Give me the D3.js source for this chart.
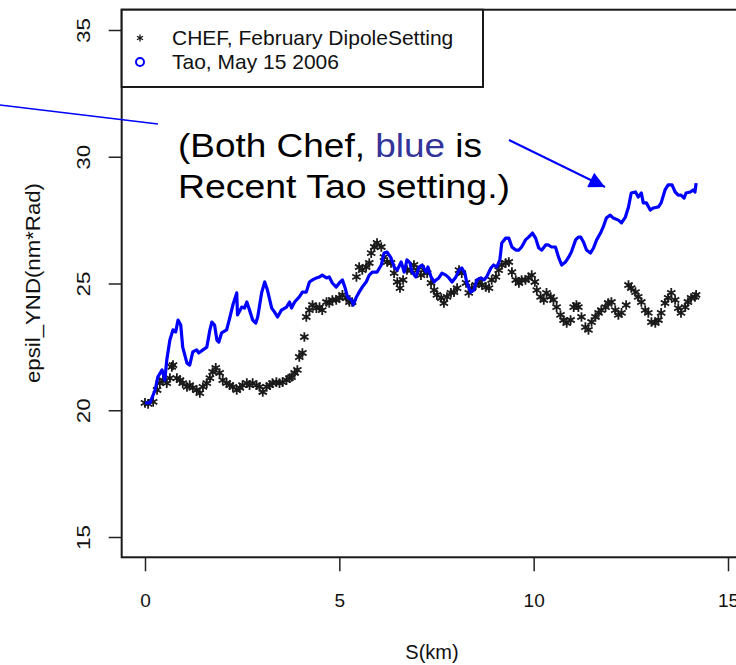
<!DOCTYPE html>
<html>
<head>
<meta charset="utf-8">
<script src="https://cdn.jsdelivr.net/npm/d3@7"></script>
<style>
  body { margin: 0; background: #fff; }
  svg { display: block; font-family: "Liberation Sans", Arial, sans-serif; }
</style>
</head>
<body>
<div id="chart"></div>
<script>
// CHEF, February DipoleSetting (star markers): [S(km), epsil_YND]
var chefS = [0,0.08,0.21,0.31,0.38,0.46,0.56,0.64,0.69,0.72,0.82,0.90,0.97,1.08,1.15,1.23,1.33,1.41,1.49,1.59,
  1.67,1.74,1.82,1.92,2.00,2.10,2.18,2.26,2.36,2.44,2.51,2.62,2.69,2.77,2.87,2.95,3.03,3.13,3.21,3.28,
  3.38,3.46,3.54,3.64,3.72,3.77,3.85,3.92,3.97,4.05,4.10,4.15,4.23,4.31,4.41,4.49,4.56,4.67,4.74,4.82,
  4.92,5.00,5.08,5.18,5.26,5.33,5.44,5.51,5.59,5.69,5.77,5.82,5.90,5.97,6.08,6.15,6.23,6.33,6.41,6.49,
  6.56,6.64,6.74,6.85,6.92,7.00,7.10,7.18,7.26,7.36,7.44,7.51,7.62,7.69,7.77,7.87,7.95,8.03,8.08,8.15,
  8.26,8.33,8.41,8.51,8.59,8.67,8.77,8.85,8.92,9.03,9.10,9.18,9.28,9.36,9.44,9.54,9.62,9.69,9.79,9.87,
  9.95,10.03,10.08,10.18,10.26,10.33,10.44,10.51,10.59,10.69,10.77,10.85,10.95,11.03,11.10,11.15,11.23,11.33,11.41,11.49,
  11.59,11.67,11.74,11.85,11.92,12.00,12.10,12.18,12.26,12.38,12.44,12.51,12.62,12.69,12.77,12.87,12.95,13.03,13.13,13.21,
  13.28,13.38,13.46,13.54,13.64,13.72,13.79,13.90,13.97,14.05,14.15,14.18];
var chefEps = [20.29,20.25,20.33,20.80,21.07,21.19,21.07,21.27,21.71,21.78,21.27,21.19,21.07,20.92,20.99,20.88,20.80,20.68,20.92,21.07,
  21.27,21.51,21.67,21.47,21.19,21.07,20.99,20.92,20.80,20.88,20.99,21.07,20.99,21.07,20.99,20.92,20.72,20.92,20.99,21.07,
  21.11,21.07,21.11,21.19,21.27,21.31,21.47,21.59,22.10,22.26,22.89,23.68,23.95,24.15,24.03,24.07,23.95,24.27,24.23,24.35,
  24.35,24.43,24.55,24.43,24.27,24.27,25.26,25.65,25.53,25.65,25.81,26.20,26.44,26.60,26.44,26.04,25.85,25.81,25.41,25.06,
  24.82,25.14,25.53,25.53,25.73,25.53,25.33,25.53,25.41,25.02,24.74,24.55,24.43,24.23,24.47,24.63,24.66,24.82,25.53,25.41,
  25.02,24.63,24.82,24.94,25.06,24.94,24.86,24.82,25.14,25.26,25.53,25.73,25.81,25.85,25.45,25.14,25.02,25.14,25.14,25.22,
  25.33,25.06,24.74,24.47,24.35,24.63,24.47,24.35,24.07,23.76,23.56,23.44,23.56,24.07,24.15,24.07,23.68,23.28,23.17,23.48,
  23.68,23.84,23.95,24.07,24.23,24.27,23.95,23.76,23.84,24.15,24.94,24.82,24.66,24.47,24.27,23.95,23.84,23.48,23.44,23.56,
  23.84,24.23,24.43,24.63,24.35,24.03,23.84,24.07,24.27,24.43,24.47,24.55];

// Tao, May 15 2006 (blue line)
var taoS = [0,0.13,0.26,0.33,0.44,0.51,0.56,0.64,0.72,0.79,0.85,0.92,0.97,1.08,1.15,1.23,1.33,1.38,1.49,1.59,
  1.67,1.72,1.79,1.85,1.90,1.97,2.10,2.18,2.26,2.36,2.38,2.49,2.56,2.62,2.69,2.77,2.85,2.90,3.00,3.08,
  3.15,3.26,3.33,3.41,3.51,3.64,3.72,3.77,3.85,3.97,4.05,4.15,4.23,4.31,4.41,4.49,4.56,4.67,4.74,4.82,
  4.92,5.00,5.08,5.15,5.21,5.31,5.36,5.44,5.51,5.59,5.69,5.77,5.85,5.97,6.08,6.15,6.23,6.33,6.41,6.49,
  6.59,6.67,6.74,6.82,6.87,6.97,7.05,7.13,7.23,7.28,7.36,7.44,7.49,7.56,7.64,7.74,7.82,7.90,8.00,8.08,
  8.15,8.23,8.28,8.38,8.46,8.54,8.64,8.72,8.79,8.90,8.97,9.05,9.13,9.18,9.28,9.36,9.44,9.54,9.62,9.69,
  9.79,9.87,9.97,10.05,10.13,10.21,10.31,10.38,10.46,10.56,10.64,10.72,10.82,10.90,10.97,11.08,11.15,11.21,11.28,11.36,
  11.46,11.54,11.62,11.72,11.79,11.87,11.97,12.05,12.18,12.26,12.36,12.44,12.51,12.62,12.69,12.77,12.82,12.90,13.00,13.08,
  13.21,13.28,13.38,13.46,13.56,13.64,13.72,13.79,13.87,13.92,14.03,14.10,14.15,14.18];
var taoEps = [20.29,20.29,20.80,21.31,21.59,21.19,21.98,22.77,23.17,23.09,23.56,23.36,22.49,21.86,21.78,22.30,22.38,22.26,22.38,22.49,
  23.17,23.48,23.36,22.77,22.69,23.05,23.17,23.64,24.15,24.63,23.76,24.07,24.03,24.27,23.95,23.56,23.44,23.68,24.63,25.06,
  24.74,24.03,23.88,23.68,23.95,24.07,24.27,24.03,24.27,24.47,24.66,24.66,25.06,25.14,25.22,25.26,25.33,25.22,25.26,25.02,
  24.86,25.02,25.14,24.82,24.47,24.35,24.15,24.47,24.66,24.86,25.06,25.33,25.45,25.45,25.73,26.20,26.24,26.01,25.65,25.53,
  25.85,25.45,25.93,25.81,25.45,25.26,25.65,25.73,25.45,25.65,25.26,25.06,25.14,25.22,25.41,25.33,25.22,25.06,25.26,25.53,
  25.61,25.41,25.02,24.66,24.74,25.14,25.22,25.14,25.26,25.61,25.73,25.65,25.93,26.60,26.79,26.79,26.44,26.32,26.32,26.44,
  26.72,26.83,26.99,26.79,26.40,26.32,26.52,26.52,26.44,26.44,26.04,25.73,25.85,26.04,26.24,26.72,26.83,26.83,26.64,26.32,
  26.20,26.40,26.72,26.99,27.23,27.58,27.70,27.58,27.50,27.39,27.62,28.02,28.57,28.61,28.41,28.57,28.18,28.18,27.90,27.98,
  28.02,28.18,28.69,28.89,28.89,28.61,28.49,28.49,28.37,28.57,28.61,28.69,28.61,28.96];

var xTicks = [0, 5, 10, 15];
var yTicks = [15, 20, 25, 30, 35];
var legendLabels = ["CHEF, February DipoleSetting", "Tao, May 15 2006"];

var W = 736, H = 665;
var svg = d3.select("#chart").append("svg").attr("width", W).attr("height", H);

// Set the ranges (R style: limits padded 4%)
var x = d3.scaleLinear().domain([0, 15]).range([145, 728]);
var y = d3.scaleLinear().domain([15, 35]).range([537, 30]);
var x0 = x(-0.6), x1 = x(15.6), yTop = y(35.8), yBot = y(14.2);

// clip for data
svg.append("clipPath").attr("id", "plotclip")
  .append("rect").attr("x", x0).attr("y", yTop).attr("width", x1 - x0).attr("height", yBot - yTop);

var plot = svg.append("g").attr("clip-path", "url(#plotclip)");

var chef = chefS.map(function(s, i) { return [s, chefEps[i]]; });
var tao = taoS.map(function(s, i) { return [s, taoEps[i]]; });

// asterisk marker
function starPath(r) {
  var p = "";
  for (var k = 0; k < 3; k++) {
    var a = Math.PI / 2 + k * Math.PI / 3;
    p += "M" + (r * Math.cos(a)).toFixed(2) + "," + (-r * Math.sin(a)).toFixed(2) +
         "L" + (-r * Math.cos(a)).toFixed(2) + "," + (r * Math.sin(a)).toFixed(2);
  }
  return p;
}

plot.selectAll(".chef").data(chef).enter().append("path")
  .attr("class", "chef")
  .attr("transform", function(d) { return "translate(" + x(d[0]) + "," + y(d[1]) + ")"; })
  .attr("d", starPath(4.8))
  .attr("stroke", "#1a1a1a").attr("stroke-width", 1.8).attr("fill", "none");

var valueline = d3.line()
  .x(function(d) { return x(d[0]); })
  .y(function(d) { return y(d[1]); });

plot.append("path")
  .attr("d", valueline(tao))
  .attr("fill", "none").attr("stroke", "#0000ff").attr("stroke-width", 3.2)
  .attr("stroke-linejoin", "round");

// box
svg.append("rect").attr("x", x0).attr("y", yTop).attr("width", x1 - x0).attr("height", yBot - yTop)
  .attr("fill", "none").attr("stroke", "#1a1a1a").attr("stroke-width", 2);

// X axis
var xAxis = d3.axisBottom(x).tickValues(xTicks).tickSize(14).tickPadding(22);
var gx = svg.append("g").attr("transform", "translate(0," + yBot + ")").call(xAxis);
gx.select(".domain").remove();
gx.selectAll(".tick line").attr("stroke", "#222").attr("stroke-width", 1.5);
gx.selectAll(".tick text").attr("font-size", 19).attr("fill", "#111")
  .attr("font-family", "Liberation Sans, Arial, sans-serif");

// Y axis
var yAxis = d3.axisLeft(y).tickValues(yTicks).tickSize(13);
var gy = svg.append("g").attr("transform", "translate(" + x0 + ",0)").call(yAxis);
gy.select(".domain").remove();
gy.selectAll(".tick line").attr("stroke", "#222").attr("stroke-width", 1.5);
gy.selectAll(".tick text")
  .attr("x", null).attr("dy", null)
  .attr("text-anchor", "middle")
  .attr("font-size", 19).attr("fill", "#111")
  .attr("font-family", "Liberation Sans, Arial, sans-serif")
  .attr("transform", "translate(-38,0) rotate(-90)")
  .attr("dy", "0.35em")
  .attr("textLength", 25).attr("lengthAdjust", "spacingAndGlyphs");

// axis titles
svg.append("text").attr("x", 432).attr("y", 659).attr("text-anchor", "middle")
  .attr("font-size", 20).attr("fill", "#111").text("S(km)");
svg.append("text").attr("transform", "translate(40,283) rotate(-90)").attr("text-anchor", "middle")
  .attr("font-size", 20).attr("fill", "#111")
  .attr("textLength", 200).attr("lengthAdjust", "spacingAndGlyphs")
  .text("epsil_YND(nm*Rad)");

// legend
svg.append("rect").attr("x", x0).attr("y", yTop).attr("width", 483 - x0).attr("height", 87 - yTop)
  .attr("fill", "#fff").attr("stroke", "#1a1a1a").attr("stroke-width", 2);
svg.append("path").attr("transform", "translate(140,38)").attr("d", starPath(3.5))
  .attr("stroke", "#111").attr("stroke-width", 1.3).attr("fill", "none");
svg.append("circle").attr("cx", 140).attr("cy", 62).attr("r", 4)
  .attr("fill", "none").attr("stroke", "#0000ff").attr("stroke-width", 2);
svg.selectAll(".leg").data(legendLabels).enter().append("text")
  .attr("x", 172).attr("y", function(d, i) { return 38 + i * 24; })
  .attr("dy", "0.35em").attr("font-size", 21).attr("fill", "#111")
  .text(function(d) { return d; });

// annotation overlay
svg.append("line").attr("x1", 0).attr("y1", 105).attr("x2", 158).attr("y2", 124)
  .attr("stroke", "#0000ff").attr("stroke-width", 1.5);

var ann1 = svg.append("text").attr("x", 178).attr("y", 157).attr("font-size", 33).attr("fill", "#000")
  .attr("textLength", 304).attr("lengthAdjust", "spacingAndGlyphs");
ann1.append("tspan").text("(Both Chef, ");
ann1.append("tspan").attr("fill", "#333399").text("blue");
ann1.append("tspan").text(" is");
svg.append("text").attr("x", 178).attr("y", 198).attr("font-size", 33).attr("fill", "#000")
  .attr("textLength", 332).attr("lengthAdjust", "spacingAndGlyphs")
  .text("Recent Tao setting.)");

// arrow
svg.append("defs").append("marker").attr("id", "arrowhead")
  .attr("viewBox", "0 0 10 10").attr("refX", 10).attr("refY", 5)
  .attr("markerWidth", 10).attr("markerHeight", 8).attr("markerUnits", "strokeWidth")
  .attr("orient", "auto")
  .append("path").attr("d", "M0,0L10,5L0,10Z").attr("fill", "#0000ff");
svg.append("line").attr("x1", 509).attr("y1", 140).attr("x2", 605).attr("y2", 187)
  .attr("stroke", "#0000ff").attr("stroke-width", 2)
  .attr("marker-end", "url(#arrowhead)");
</script>
</body>
</html>
